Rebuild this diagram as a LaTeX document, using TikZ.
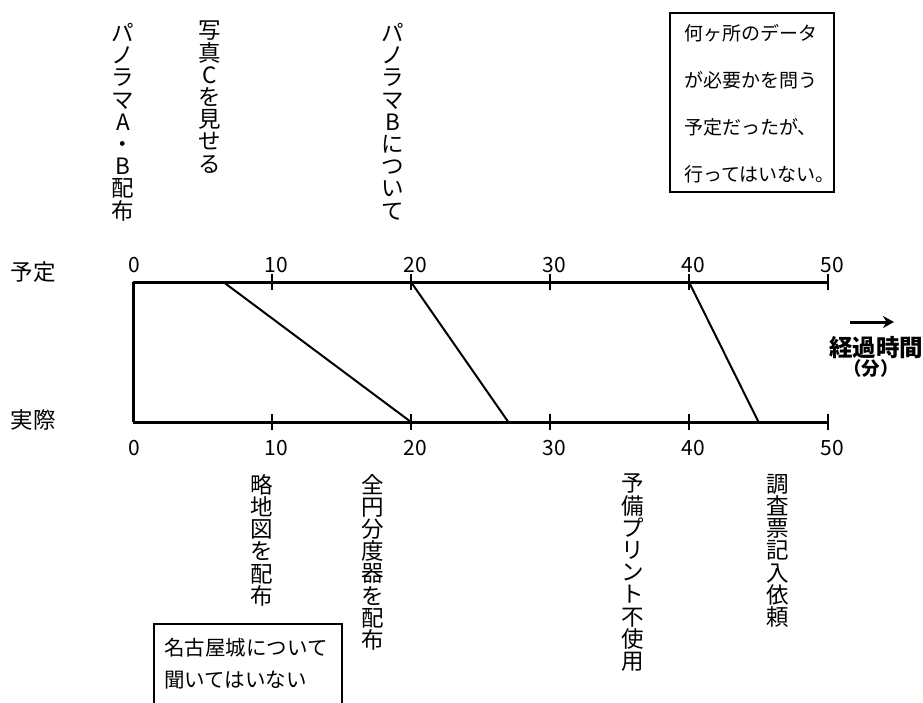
\documentclass[tikz,border=0pt]{standalone}
\usepackage{fontspec}
\setmainfont{Noto Sans CJK JP}
\usetikzlibrary{arrows.meta}
\begin{document}
\begin{tikzpicture}[x=1pt,y=-1pt,
  axisline/.style={line width=3pt},
  slant/.style={line width=2pt},
  tickmark/.style={line width=2.5pt},
  vtext/.style={align=center,font=\fontsize{22.5}{22.2}\selectfont,inner sep=0pt,anchor=north},
  ticklabel/.style={font=\fontsize{21}{21}\selectfont,inner sep=0pt},
  rowlabel/.style={font=\fontsize{22.5}{22.5}\selectfont,inner sep=0pt},
  boxframe/.style={line width=2.5pt}]
\useasboundingbox (0,0) rectangle (923,702);
\fill[white] (0,0) rectangle (923,702);

% row labels
\node[rowlabel] (plan) at (33,272) {予定};
\node[rowlabel] (actual) at (33,420) {実際};

% axis coordinates
\foreach \t in {0,10,20,30,40,50}{
  \coordinate (p\t) at ({133+13.9*\t},282);
  \coordinate (a\t) at ({133+13.9*\t},422);
}
\coordinate (p6) at ({133+13.9*6.5},282);
\coordinate (a27) at ({133+13.9*27},422);
\coordinate (a45) at ({133+13.9*45},422);

\draw[axisline] (p0) -- (p50);
\draw[axisline] (a0) -- (a50);
\draw[axisline] (p0) -- (a0);
\foreach \t in {10,20,30,40,50}{
  \draw[tickmark] ([yshift=-8pt]p\t) -- ([yshift=8pt]p\t);
  \draw[tickmark] ([yshift=-8pt]a\t) -- ([yshift=8pt]a\t);
}
% tick labels
\node[ticklabel] (tp0) at (134,265) {0};
\node[ticklabel] (ta0) at (134,448) {0};
\foreach \t in {10,20,30,40,50}{
  \node[ticklabel] (tp\t) at ({137+13.9*\t},265) {\t};
  \node[ticklabel] (ta\t) at ({137+13.9*\t},448) {\t};
}

% slanted connectors
\draw[slant] (p6) -- (a20);
\draw[slant] (p20) -- (a27);
\draw[slant] (p40) -- (a45);

% elapsed time arrow
\coordinate (arrS) at (850,322);
\coordinate (arrE) at (894,322);
\draw[line width=3pt,-{Stealth[length=11pt,width=12pt]}] (arrS) -- (arrE);
\node[font=\fontsize{23.5}{23.5}\selectfont\bfseries,inner sep=0pt] (elapsed) at (876,348) {経過時間};
\node[font=\fontsize{18.5}{18.5}\selectfont\bfseries,inner sep=0pt] (minutes) at (871,368) {（分）};

% top vertical texts
\node[vtext] (pAB) at (123,23) {パ\\ノ\\ラ\\マ\\A\\・\\B\\配\\布};
\node[vtext] (photoC) at (210,21) {写\\真\\C\\を\\見\\せ\\る};
\node[vtext] (pB) at (393,23) {パ\\ノ\\ラ\\マ\\B\\に\\つ\\い\\て};

% top-right memo box
\node[boxframe,draw,minimum width=164pt,minimum height=179pt,inner sep=0pt] (memo) at (752,102.5) {};
\node[align=left,anchor=north west,inner sep=0pt,font=\fontsize{19}{47}\selectfont] (memotext) at (684,24)
  {何ヶ所のデータ\\が必要かを問う\\予定だったが、\\行ってはいない。};

% bottom vertical texts
\node[vtext] (ryaku) at (262,474) {略\\地\\図\\を\\配\\布};
\node[vtext] (zenen) at (373,474) {全\\円\\分\\度\\器\\を\\配\\布};
\node[vtext] (yobi) at (633,474) {予\\備\\プ\\リ\\ン\\ト\\不\\使\\用};
\node[vtext] (chosa) at (778,474) {調\\査\\票\\記\\入\\依\\頼};

% bottom box (cut off at the bottom)
\coordinate (bbl) at (154,710);
\coordinate (btl) at (154,624);
\coordinate (btr) at (342,624);
\coordinate (bbr) at (342,710);
\draw[boxframe] (bbl) -- (btl) -- (btr) -- (bbr);
\node[align=left,anchor=west,inner sep=0pt,font=\fontsize{20.5}{20.5}\selectfont] (nagoya1) at (164,648) {名古屋城について};
\node[align=left,anchor=west,inner sep=0pt,font=\fontsize{20.5}{20.5}\selectfont] (nagoya2) at (164,680) {聞いてはいない};
\end{tikzpicture}
\end{document}
